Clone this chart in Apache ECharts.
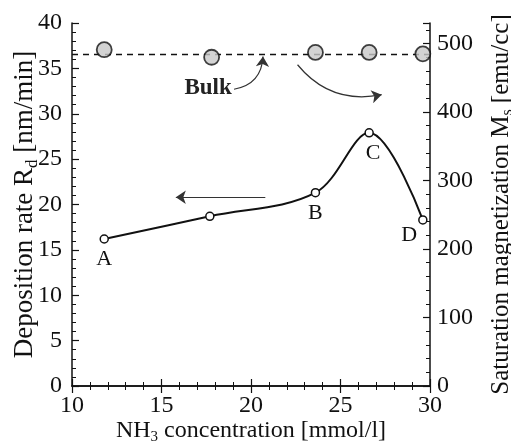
<!DOCTYPE html>
<html>
<head>
<meta charset="utf-8">
<script src="https://cdn.jsdelivr.net/npm/echarts@6/dist/echarts.min.js"></script>
<style>
  html, body { margin: 0; padding: 0; background: #fff; }
  #chart { width: 511px; height: 447px; }
</style>
</head>
<body>
<div id="chart"></div>
<script>
// deposition rate (left axis)
const nh3 = [11.8, 17.7, 23.6, 26.6, 29.6];
const rate = [16.2, 18.7, 21.3, 27.9, 18.3];
const pointNames = ['A', '', 'B', 'C', 'D'];
// saturation magnetization (right axis)
const nh3Ms = [11.8, 17.8, 23.6, 26.6, 29.6];
const ms = [491, 480, 487, 487, 485];
const bulkMs = 484;
const xTicks = [10, 15, 20, 25, 30];
const rateTicks = [0, 5, 10, 15, 20, 25, 30, 35, 40];
const msTicks = [0, 100, 200, 300, 400, 500];
// annotation arrows, in left-axis units: [from, to, curveness]
const arrows = [
  [[20.8, 20.8], [15.8, 20.8], 0],
  [[22.6, 35.4], [27.3, 32.1], -0.3],
  [[19.05, 32.7], [20.67, 36.3], -0.4]
];

const FONT = 'Liberation Serif';
const MS_MAX = 530;

let chart = echarts.init(document.getElementById('chart'));

let labelPos = {
  A: { position: 'bottom', distance: 4 },
  B: { position: 'bottom', distance: 5 },
  C: { position: 'bottom', distance: 5, offset: [4, 0] },
  D: { position: 'left', distance: 3, offset: [2, 15] }
};

let rateData = nh3.map((x, i) => {
  let name = pointNames[i];
  let item = { value: [x, rate[i]] };
  if (name) {
    item.label = Object.assign({ show: true, formatter: name }, labelPos[name]);
  }
  return item;
});

let tickCommon = {
  nameMoveOverlap: false,
  axisLine: { show: true, lineStyle: { color: '#111', width: 1.5 } },
  axisTick: { show: true, inside: true, length: 7, lineStyle: { color: '#111', width: 1.2 } },
  minorTick: { show: true, splitNumber: 5, length: 4, lineStyle: { color: '#111' } },
  splitLine: { show: false }
};

let subStyle = size => ({ fontSize: size, fontFamily: FONT, color: '#111', padding: [size - 2, 0, 0, 0] });

let option = {
  animation: false,
  textStyle: { fontFamily: FONT, color: '#111' },
  grid: { left: 72, right: 81, top: 23, bottom: 61, containLabel: false, outerBoundsMode: 'none' },
  xAxis: [
    Object.assign({
      type: 'value', min: xTicks[0], max: xTicks[xTicks.length - 1], interval: 5,
      position: 'bottom',
      axisLabel: { fontSize: 24, fontFamily: FONT, color: '#111', margin: 8 },
      name: 'NH{sub|3} concentration [mmol/l]',
      nameLocation: 'middle', nameGap: 31,
      nameTextStyle: {
        fontSize: 24, fontFamily: FONT, color: '#111',
        rich: { sub: subStyle(15) }
      }
    }, tickCommon),
    Object.assign({
      type: 'value', min: 10, max: 30, interval: 5, position: 'top',
      axisLabel: { show: false }
    }, tickCommon)
  ],
  yAxis: [
    Object.assign({
      type: 'value', min: rateTicks[0], max: rateTicks[rateTicks.length - 1], interval: 5,
      position: 'left',
      axisLabel: { fontSize: 24, fontFamily: FONT, color: '#111', margin: 10 },
      name: 'Deposition rate R{sub|d} [nm/min]',
      nameLocation: 'middle', nameGap: 31, nameRotate: 90,
      nameTextStyle: {
        fontSize: 27, fontFamily: FONT, color: '#111',
        rich: { sub: subStyle(17) }
      }
    }, tickCommon),
    Object.assign({
      type: 'value', min: msTicks[0], max: MS_MAX, interval: 100,
      position: 'right',
      axisLabel: {
        fontSize: 24, fontFamily: FONT, color: '#111', margin: 7,
        formatter: v => (msTicks.indexOf(v) >= 0 ? String(v) : '')
      },
      name: 'Saturation magnetization M{sub|s} [emu/cc]',
      nameLocation: 'middle', nameGap: 56, nameRotate: 90,
      nameTextStyle: {
        fontSize: 25, fontFamily: FONT, color: '#111',
        rich: { sub: subStyle(16) }
      }
    }, tickCommon)
  ],
  series: [
    {
      name: 'Rd',
      type: 'line',
      xAxisIndex: 0, yAxisIndex: 0,
      smooth: 0.35,
      data: rateData,
      symbol: 'circle', symbolSize: 8,
      itemStyle: { color: '#fff', borderColor: '#111', borderWidth: 1.5 },
      lineStyle: { color: '#111', width: 2 },
      label: { fontSize: 22, fontFamily: FONT, color: '#111' },
      markPoint: {
        symbol: 'circle', symbolSize: 0,
        label: { show: true, fontSize: 23, fontFamily: FONT, fontWeight: 'bold', color: '#222', formatter: 'Bulk' },
        data: [{ coord: [17.6, 32.8] }]
      }
    },
    {
      name: 'arrows',
      type: 'lines',
      coordinateSystem: 'cartesian2d',
      xAxisIndex: 0, yAxisIndex: 0,
      symbol: ['none', 'arrow'], symbolSize: 10,
      silent: true,
      lineStyle: { color: '#333', width: 1.2, opacity: 1 },
      data: arrows.map(a => ({ coords: [a[0], a[1]], lineStyle: { curveness: a[2] } }))
    },
    {
      name: 'Bulk',
      type: 'line',
      xAxisIndex: 0, yAxisIndex: 1,
      data: [[xTicks[0], bulkMs], [xTicks[xTicks.length - 1], bulkMs]],
      symbol: 'none',
      lineStyle: { color: '#111', width: 1.5, type: [6, 5] },
      z: 1
    },
    {
      name: 'Ms',
      type: 'scatter',
      xAxisIndex: 0, yAxisIndex: 1,
      data: nh3Ms.map((x, i) => [x, ms[i]]),
      symbol: 'circle', symbolSize: 15,
      itemStyle: { color: '#c8c8c8', borderColor: '#111', borderWidth: 1.8 },
      z: 3
    }
  ]
};

chart.setOption(option);
</script>
</body>
</html>
